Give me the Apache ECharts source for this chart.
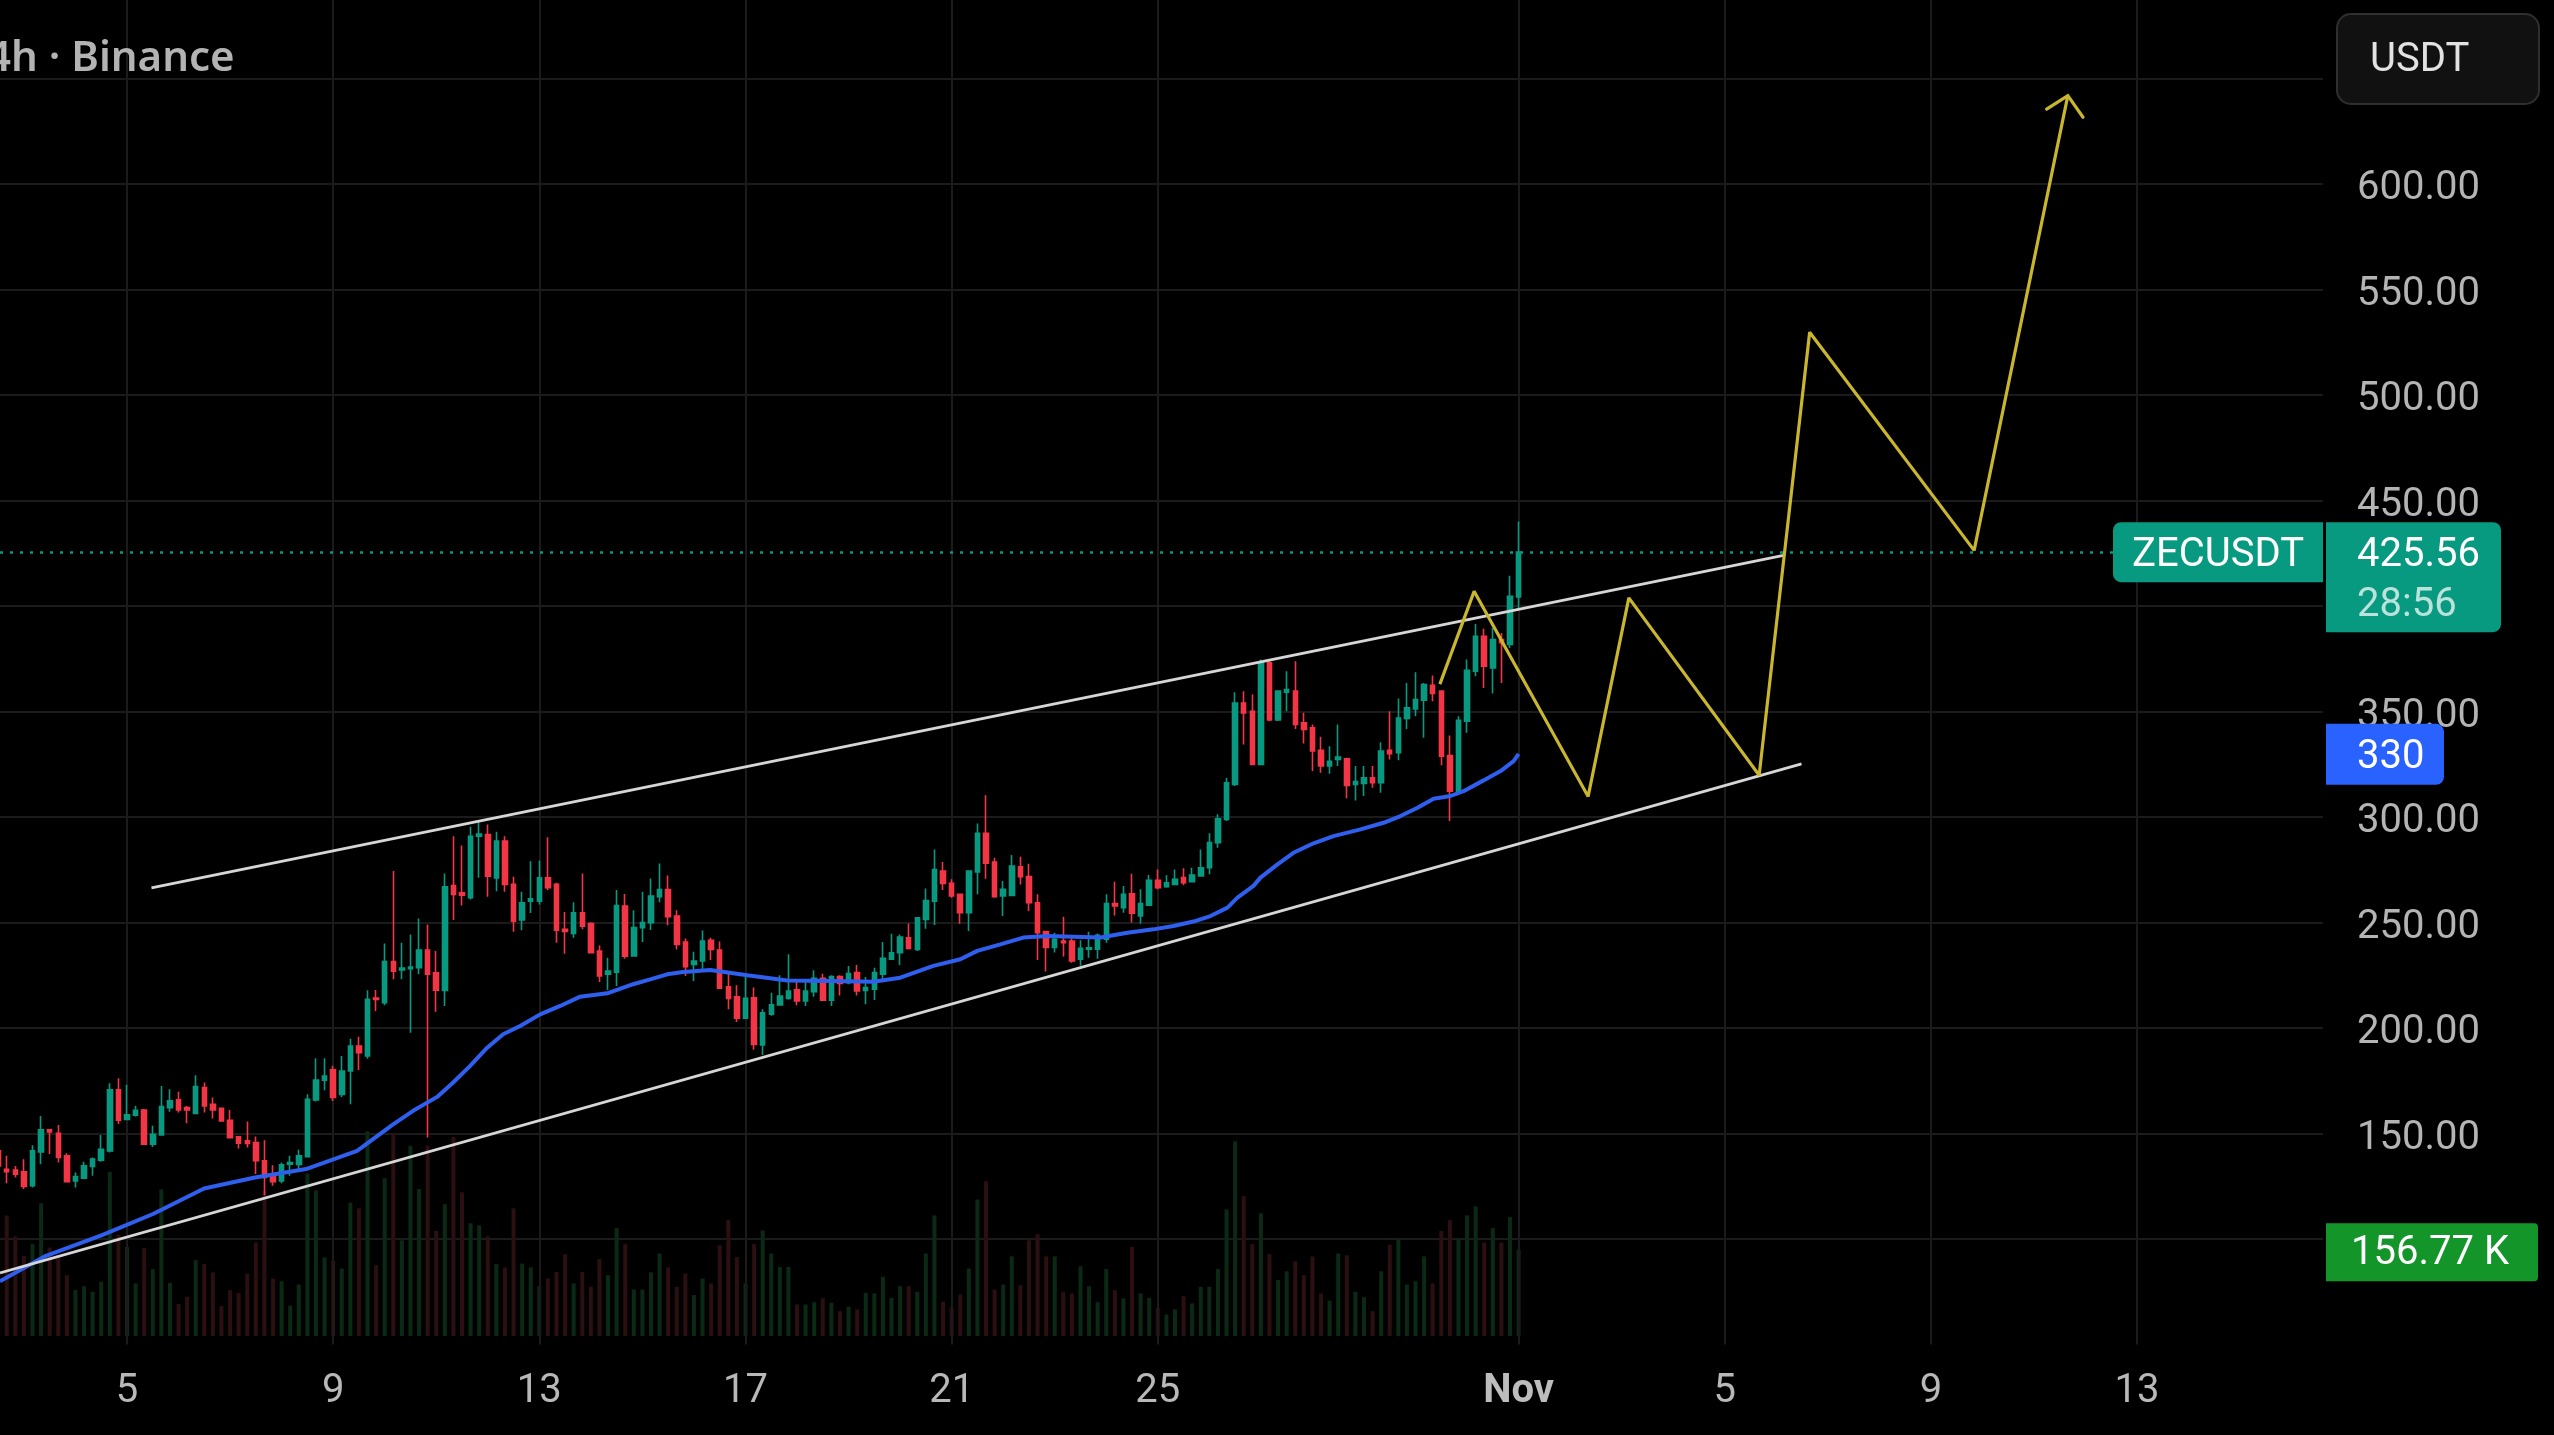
<!DOCTYPE html>
<html>
<head>
<meta charset="utf-8">
<script src="https://cdn.jsdelivr.net/npm/echarts@6/dist/echarts.min.js"></script>
<style>
html,body{margin:0;padding:0;background:#000;overflow:hidden;}
#chart{width:2554px;height:1435px;}
</style>
</head>
<body>
<div id="chart"></div>
<script>
// ---- time layout (days of October; Nov 1 = 32) ----
const firstCandleDay = 2.5;          // Oct 2, 12:00
const candleStepDays = 1 / 6;        // 4h candles

// ---- OHLC ----
const opens = [141.8,133.1,132.7,131.9,125.3,141.3,151.8,150.2,139.5,127.6,128.9,134.4,137.4,141.8,170.7,156.7,158.7,161.2,145.0,149.4,
162.3,166.0,162.3,159.5,171.8,163.9,162.0,156.3,148.5,146.6,145.8,137.1,129.7,127.6,135.5,135.4,139.1,166.0,175.3,180.2,
168.6,179.7,191.5,186.8,214.2,212.0,231.5,227.6,228.1,228.6,237.0,226.2,217.9,267.6,264.1,261.8,291.0,291.7,271.2,288.6,
268.1,251.2,260.2,260.2,271.2,268.1,246.8,244.9,254.6,249.6,236.5,225.5,226.5,257.8,234.2,247.6,250.0,262.3,265.7,253.1,
240.8,230.2,231.8,241.6,237.0,219.6,214.8,204.7,214.4,192.0,206.6,211.0,214.1,218.1,212.9,217.3,223.6,213.2,224.4,221.5,
226.3,217.9,218.4,225.5,232.6,235.7,242.8,237.3,251.5,260.2,274.4,268.6,263.4,254.7,274.0,292.3,278.7,262.6,262.9,276.5,
271.8,259.4,245.7,238.2,241.3,241.3,232.6,237.4,237.4,242.1,259.0,257.1,263.7,253.1,258.3,270.0,267.0,268.1,271.3,269.4,
272.1,276.0,287.9,298.9,315.5,354.1,350.2,325.0,373.1,346.0,359.2,359.7,344.7,342.3,331.6,324.2,327.3,327.6,315.5,316.0,
318.6,316.3,331.6,330.5,346.7,351.3,355.4,362.5,359.7,329.2,312.3,345.5,369.1,385.7,370.7,384.1,381.8,404.3];
const highs = [143.4,139.5,134.7,137.9,144.5,158.4,152.1,154.1,140.7,131.6,136.6,138.7,149.3,173.9,176.2,173.2,163.1,161.6,153.7,172.6,
171.0,169.8,163.1,177.7,174.2,167.1,162.3,161.2,148.9,155.7,148.6,146.9,135.0,136.3,139.5,142.3,168.7,185.7,185.7,182.1,
186.8,195.0,195.9,217.9,218.0,240.1,274.4,240.4,244.4,252.0,249.1,236.5,273.3,290.9,286.5,295.4,298.5,296.5,293.0,290.9,
271.7,264.6,279.1,279.4,290.5,268.9,255.0,259.7,273.3,250.2,239.2,233.3,265.4,263.6,255.8,264.6,270.9,278.0,272.3,255.8,
242.5,236.2,246.3,242.8,241.0,227.1,220.3,224.4,219.2,208.9,216.8,225.0,235.0,222.8,222.6,227.4,225.8,225.0,225.0,229.4,
229.9,224.2,228.6,240.8,244.7,244.4,249.6,252.6,266.2,284.7,278.7,270.5,263.7,274.4,297.0,310.3,280.7,269.7,282.0,281.2,
277.9,263.4,246.0,245.2,252.8,243.2,241.6,245.7,244.8,263.4,269.4,267.3,273.2,265.8,272.5,275.2,272.4,275.2,275.7,276.0,
284.7,292.3,301.3,318.6,359.2,359.7,358.1,374.7,373.9,360.0,369.1,373.9,349.4,343.9,338.1,333.6,343.9,328.1,324.2,324.2,
324.2,335.5,350.2,356.2,363.6,368.7,363.6,367.1,360.0,338.7,347.8,374.7,391.5,389.3,389.6,387.3,414.4,440.1];
const lows = [133.9,126.5,129.2,123.7,124.5,135.5,140.3,136.3,127.2,124.5,128.4,130.0,136.6,141.0,154.5,156.5,158.1,144.7,143.7,149.4,
160.3,160.0,154.9,159.2,160.0,157.1,155.6,147.7,142.9,143.4,130.8,120.8,125.3,126.5,130.0,131.9,138.7,165.2,170.5,165.5,
167.4,163.9,180.2,185.5,208.1,210.8,223.1,223.1,197.8,225.5,148.1,207.8,210.5,251.2,258.1,261.0,271.2,262.2,264.9,264.6,
245.7,246.4,254.6,258.6,265.4,240.4,235.2,242.8,246.8,235.7,221.8,218.0,219.9,232.9,234.2,240.8,246.5,259.7,248.8,237.3,
224.7,222.3,226.6,232.3,218.9,208.9,202.9,204.5,189.7,187.3,205.8,210.8,213.6,210.8,210.5,214.9,212.9,210.5,215.5,220.8,
215.5,211.3,213.3,223.1,232.3,229.9,237.3,236.5,247.1,248.9,265.4,261.8,249.5,246.0,263.4,270.8,261.8,253.1,262.6,268.1,
255.5,232.3,226.8,235.8,233.9,231.0,229.5,233.4,232.9,240.5,253.4,254.7,250.0,249.5,257.9,265.8,266.5,267.7,267.7,269.2,
271.8,272.9,285.5,298.1,314.7,334.4,325.0,325.0,345.5,345.5,350.2,341.8,334.9,321.8,321.0,320.5,324.2,308.9,307.9,310.0,
313.9,311.5,327.3,327.0,341.8,347.8,337.6,354.9,324.6,298.1,311.5,340.0,366.8,361.2,358.6,363.6,380.2,398.3];
const closes = [134.7,131.9,130.8,125.0,141.8,151.8,150.8,138.7,127.2,129.7,134.7,137.9,142.6,170.7,156.3,158.9,161.1,145.0,149.7,162.8,
165.5,161.2,161.2,172.3,163.1,161.2,156.0,148.0,145.5,145.3,137.1,129.2,127.2,135.2,136.3,139.5,166.3,175.4,177.3,167.1,
179.7,191.5,188.4,213.6,213.6,231.5,227.0,228.5,228.9,237.0,225.5,218.0,267.0,263.3,263.0,290.9,292.0,272.0,288.6,268.1,
250.7,259.4,261.3,271.2,266.5,246.4,245.8,254.6,248.3,235.7,224.7,227.0,258.1,234.1,247.6,250.0,262.6,265.7,252.8,239.7,
229.1,231.8,241.3,237.3,218.9,214.1,204.7,214.1,192.3,207.3,211.0,215.2,217.6,212.9,217.6,223.6,213.2,224.4,221.2,225.8,
217.6,219.2,226.3,233.1,235.7,243.2,237.8,252.3,260.5,275.2,268.6,262.6,254.7,274.4,292.3,278.1,262.3,265.8,276.8,271.8,
259.4,245.2,238.2,242.1,240.5,231.8,237.8,238.1,244.0,259.0,257.9,263.4,254.4,259.0,270.0,266.5,268.9,270.5,268.9,272.5,
276.0,287.9,299.2,316.3,354.1,349.4,325.0,373.1,346.0,359.7,360.5,343.9,341.5,331.3,324.2,326.5,328.4,315.0,316.8,318.6,
316.3,331.3,330.0,347.0,351.8,355.7,362.8,358.6,328.9,312.3,345.9,369.6,385.7,371.5,384.1,382.6,404.6,425.56];

// ---- volume (thousands) ----
const volumes = [193,218,180,145,166,240,160,146,110,83,90,80,98,297,183,161,95,159,121,265,
96,58,71,137,130,115,54,83,78,113,169,262,104,99,55,93,294,263,142,136,
122,241,231,370,128,285,365,173,344,266,344,190,238,360,260,204,200,180,130,124,
231,131,124,90,104,116,148,95,116,89,139,110,195,166,84,84,115,149,124,89,
113,74,104,95,164,210,143,95,166,191,149,125,125,57,57,61,68,60,45,53,
48,78,77,107,69,90,90,80,149,218,62,52,75,122,247,280,84,93,144,92,
173,184,144,144,80,77,126,90,61,121,83,68,161,77,69,51,39,48,72,59,
89,89,121,229,352,253,166,222,148,101,117,135,110,144,77,64,149,146,80,70,
45,117,165,175,93,99,144,95,190,210,175,218,234,169,195,169,215,156.77];

// ---- moving average line ----
const maDays = [2.535,3.428,4.515,5.505,6.495,7.484,8.474,9.464,10.163,10.551,11.017,11.328,11.658,11.988,12.298,12.628,13.016,13.405,13.793,14.317,
14.821,15.151,15.481,15.792,16.316,17.034,17.811,18.703,19.480,20.004,20.645,21.169,21.498,21.945,22.391,22.857,23.886,24.410,24.915,25.303,
25.691,26.021,26.351,26.545,26.856,26.992,27.322,27.632,28.021,28.409,28.933,29.379,29.709,30.039,30.350,30.680,30.932,31.320,31.650,31.903,32.0];
const maValues = [80.0,92.1,101.9,111.9,124.0,129.2,133.2,141.8,154.4,160.8,167.4,174.2,182.1,190.7,197.1,201.0,206.5,210.5,214.9,216.5,
220.8,223.1,225.5,226.6,227.5,225.0,222.6,222.3,222.0,223.9,229.5,232.6,236.6,239.7,242.9,243.7,242.9,245.2,246.8,248.4,
250.5,253.1,257.1,261.8,267.4,271.3,277.6,283.1,287.6,291.0,294.2,297.3,300.5,304.4,308.7,310.0,312.3,317.4,321.8,326.5,330.0];

// ---- drawn annotations (day, price) ----
const upperChannelDays = [5.475, 37.139];
const upperChannelValues = [266.5, 424.0];
const lowerChannelDays = [2.536, 37.489];
const lowerChannelValues = [84.0, 325.2];
const zigzagDays = [30.473, 31.137, 33.349, 34.139, 36.667, 37.647, 40.838, 42.656];
const zigzagValues = [363.0, 407.0, 309.8, 403.9, 319.8, 529.8, 426.4, 641.9];
const arrowHeadDays = [42.245, 42.656, 42.951];
const arrowHeadValues = [635.5, 641.9, 631.7];

// ---- axes ----
const xTickDays = [5, 9, 13, 17, 21, 25, 32, 36, 40, 44];
const xTickLabels = ['5', '9', '13', '17', '21', '25', 'Nov', '5', '9', '13'];
const priceLabelValues = [150, 200, 250, 300, 350, 450, 500, 550, 600];
const symbolName = 'ZECUSDT';
const countdownText = '28:56';
const maLabelText = '330';
const volumeLabelText = '156.77 K';
const titleText = '4h · Binance';
const currencyText = 'USDT';

const UP = '#089981', DOWN = '#f23645';
const VOL_UP = '#0b2a15', VOL_DOWN = '#2b0f11';
const FONT = 'Roboto';

const candleDay = i => firstCandleDay + i * candleStepDays;
const candleData = opens.map((o, i) => [candleDay(i), o, closes[i], lows[i], highs[i]]);
const volumeData = volumes.map((v, i) => ({
  value: [candleDay(i), v],
  itemStyle: { color: closes[i] >= opens[i] ? VOL_UP : VOL_DOWN }
}));
const pairs = (xs, ys) => xs.map((x, i) => [x, ys[i]]);

const X_MIN = 2.536, X_MAX = 47.607;
const Y_MIN = 50, Y_MAX = 687.25;

const chart = echarts.init(document.getElementById('chart'), null, { renderer: 'canvas' });

chart.setOption({
  backgroundColor: '#000000',
  animation: false,
  textStyle: { fontFamily: FONT },
  grid: [
    { left: 0, right: 231, top: 0, bottom: 90.4 },
    { left: 0, right: 231, top: 1000, bottom: 99 }
  ],
  xAxis: [
    {
      type: 'value', gridIndex: 0, min: X_MIN, max: X_MAX,
      axisLine: { show: false }, axisTick: { show: false }, splitLine: { show: false },
      axisLabel: {
        customValues: xTickDays,
        margin: 27,
        color: '#b8b8b8', fontSize: 40, fontFamily: FONT,
        formatter: v => {
          const k = xTickDays.indexOf(Math.round(v));
          const t = k >= 0 ? xTickLabels[k] : '';
          return t === 'Nov' ? '{b|' + t + '}' : t;
        },
        rich: { b: { fontWeight: 'bold', fontSize: 40, color: '#bdbdbd', fontFamily: FONT } }
      }
    },
    { type: 'value', gridIndex: 1, min: X_MIN, max: X_MAX, show: false }
  ],
  yAxis: [
    {
      type: 'value', gridIndex: 0, position: 'right', min: Y_MIN, max: Y_MAX, interval: 50,
      axisLine: { show: false }, axisTick: { show: false },
      splitLine: { show: true, showMinLine: false, showMaxLine: false, lineStyle: { color: '#1b1b1b', width: 2 } },
      axisLabel: {
        customValues: priceLabelValues,
        align: 'left', margin: 34,
        color: '#b4b4b4', fontSize: 40, fontFamily: FONT,
        formatter: v => '{p|' + Number(v).toFixed(2) + '}',
        rich: { p: { color: '#b4b4b4', fontSize: 40, fontFamily: FONT, padding: [10, 0, 0, 0] } }
      }
    },
    { type: 'value', gridIndex: 1, min: 0, max: 607.5, show: false }
  ],
  series: [
    {
      name: 'Volume', type: 'bar', xAxisIndex: 1, yAxisIndex: 1,
      barWidth: 4, data: volumeData, z: 1, silent: true
    },
    {
      name: 'vgrid', type: 'line', xAxisIndex: 0, yAxisIndex: 0, data: [], z: 1, silent: true,
      markLine: {
        silent: true, symbol: ['none', 'none'], label: { show: false },
        lineStyle: { color: '#1b1b1b', width: 2, type: 'solid' },
        data: xTickDays.map(d => ({ xAxis: d }))
      }
    },
    {
      name: symbolName, type: 'candlestick', xAxisIndex: 0, yAxisIndex: 0,
      data: candleData, encode: { x: 0, y: [1, 2, 3, 4] },
      barWidth: 5, z: 5,
      itemStyle: { color: UP, color0: DOWN, borderColor: UP, borderColor0: DOWN, borderWidth: 1.6 },
      markLine: {
        silent: true, symbol: ['none', 'none'], label: { show: false },
        lineStyle: { color: UP, width: 2.5, type: [3, 7] },
        data: [{ yAxis: closes[closes.length - 1] }]
      }
    },
    {
      name: 'MA', type: 'line', xAxisIndex: 0, yAxisIndex: 0, data: pairs(maDays, maValues),
      showSymbol: false, symbol: 'none', smooth: false, z: 6,
      lineStyle: { color: '#2e5fef', width: 4 }
    },
    {
      name: 'upperChannel', type: 'line', data: pairs(upperChannelDays, upperChannelValues),
      symbol: 'none', z: 7, lineStyle: { color: '#d6d6d6', width: 2.8 }
    },
    {
      name: 'lowerChannel', type: 'line', data: pairs(lowerChannelDays, lowerChannelValues),
      symbol: 'none', z: 7, lineStyle: { color: '#d6d6d6', width: 2.8 }
    },
    {
      name: 'projection', type: 'line', data: pairs(zigzagDays, zigzagValues),
      symbol: 'none', z: 8, lineStyle: { color: '#c9b62e', width: 3.2 }
    },
    {
      name: 'arrowHead', type: 'line', data: pairs(arrowHeadDays, arrowHeadValues),
      symbol: 'none', z: 8, lineStyle: { color: '#c9b62e', width: 3.2, cap: 'round', join: 'miter' }
    }
  ]
});

// ---- price-scale labels placed through the chart's own scales ----
const lastClose = closes[closes.length - 1];
const py = chart.convertToPixel({ yAxisIndex: 0 }, lastClose);
const my = chart.convertToPixel({ yAxisIndex: 0 }, maValues[maValues.length - 1]);
const vy = chart.convertToPixel({ yAxisIndex: 1 }, volumes[volumes.length - 1]);
const axisX = 2326;

chart.setOption({
  graphic: [
    { type: 'text', left: -13, top: 38, z: 100,
      style: { text: titleText, fill: '#b3b3b3', font: '600 42px "Noto Sans"' } },
    { type: 'rect', x: 2337, y: 14, z: 100,
      shape: { width: 202, height: 90, r: 14 },
      style: { fill: '#111111', stroke: '#2f2f2f', lineWidth: 2 } },
    { type: 'text', x: 2370, y: 61, z: 101,
      style: { text: currencyText, fill: '#e2e2e2', font: '40px Roboto', textVerticalAlign: 'middle' } },
    // symbol box
    { type: 'rect', x: 2113, y: py - 30, z: 100,
      shape: { width: 210, height: 60, r: [8, 0, 0, 8] }, style: { fill: UP } },
    { type: 'text', x: 2218, y: py + 4, z: 101,
      style: { text: symbolName, fill: '#ffffff', font: '40px Roboto', textAlign: 'center', textVerticalAlign: 'middle' } },
    // last price box
    { type: 'rect', x: axisX, y: py - 30, z: 100,
      shape: { width: 175, height: 110, r: [0, 8, 8, 0] }, style: { fill: UP } },
    { type: 'text', x: 2357, y: py + 4, z: 101,
      style: { text: lastClose.toFixed(2), fill: '#ffffff', font: '40px Roboto', textVerticalAlign: 'middle' } },
    { type: 'text', x: 2357, y: py + 54, z: 101,
      style: { text: countdownText, fill: 'rgba(255,255,255,0.72)', font: '40px Roboto', textVerticalAlign: 'middle' } },
    // MA box
    { type: 'rect', x: axisX, y: my - 30, z: 100,
      shape: { width: 118, height: 61, r: [0, 8, 8, 0] }, style: { fill: '#2962ff' } },
    { type: 'text', x: 2357, y: my + 4, z: 101,
      style: { text: maLabelText, fill: '#ffffff', font: '40px Roboto', textVerticalAlign: 'middle' } },
    // volume box
    { type: 'rect', x: axisX, y: vy - 26, z: 100,
      shape: { width: 212, height: 58, r: [0, 4, 4, 0] }, style: { fill: '#14952a' } },
    { type: 'text', x: 2430, y: vy + 5, z: 101,
      style: { text: volumeLabelText, fill: '#ffffff', font: '40px Roboto', textAlign: 'center', textVerticalAlign: 'middle' } }
  ]
});
</script>
</body>
</html>
